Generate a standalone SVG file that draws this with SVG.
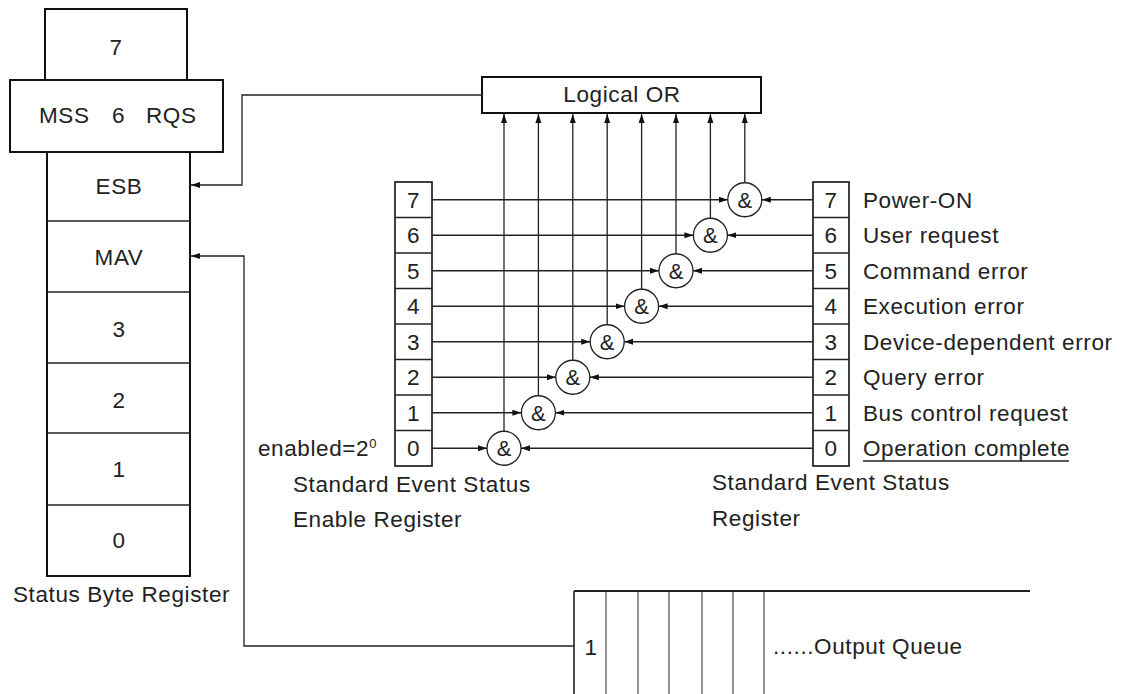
<svg xmlns="http://www.w3.org/2000/svg" width="1124" height="694" viewBox="0 0 1124 694">
<defs>
<style>
text{font-family:"Liberation Sans",Arial,sans-serif;font-size:22.5px;fill:#222;letter-spacing:0.6px}
.box{fill:#fff;stroke:#111;stroke-width:2}
.cell{fill:#fff;stroke:#111;stroke-width:1.6}
.ln{fill:none;stroke:#222;stroke-width:1.3}
.gate{fill:#fff;stroke:#222;stroke-width:1.3}
.c{text-anchor:middle}
.amp{font-size:22px;text-anchor:middle;letter-spacing:0}
</style>
<marker id="ah" markerUnits="userSpaceOnUse" markerWidth="10" markerHeight="8" refX="9" refY="3.5" orient="auto">
<path d="M0,0.5 L9,3.5 L0,6.5 z" fill="#111"/>
</marker>
</defs>
<rect width="1124" height="694" fill="#fff"/>

<g id="status-byte-register">
<rect class="box" x="45" y="9" width="142" height="71"/>
<text class="c" x="116" y="55">7</text>
<rect class="box" x="47" y="152" width="143" height="424"/>
<line class="ln" x1="47" y1="221" x2="190" y2="221" style="stroke-width:1.6"/>
<line class="ln" x1="47" y1="292" x2="190" y2="292" style="stroke-width:1.6"/>
<line class="ln" x1="47" y1="363" x2="190" y2="363" style="stroke-width:1.6"/>
<line class="ln" x1="47" y1="433" x2="190" y2="433" style="stroke-width:1.6"/>
<line class="ln" x1="47" y1="505" x2="190" y2="505" style="stroke-width:1.6"/>
<rect class="box" x="10" y="80" width="213" height="72"/>
<text x="39" y="123">MSS</text>
<text x="112" y="123">6</text>
<text x="146" y="123">RQS</text>
<text class="c" x="119" y="194">ESB</text>
<text class="c" x="119" y="265">MAV</text>
<text class="c" x="119" y="337">3</text>
<text class="c" x="119" y="408">2</text>
<text class="c" x="119" y="477">1</text>
<text class="c" x="119" y="548">0</text>
<text x="13" y="602">Status Byte Register</text>
</g>

<g id="logical-or">
<rect class="box" x="482" y="77" width="279" height="36"/>
<text class="c" x="622" y="102">Logical OR</text>
</g>

<g id="enable-register">
<rect class="cell" x="395" y="182" width="37" height="284"/>
<line class="ln" x1="395" y1="217.5" x2="432" y2="217.5"/>
<line class="ln" x1="395" y1="253" x2="432" y2="253"/>
<line class="ln" x1="395" y1="288.5" x2="432" y2="288.5"/>
<line class="ln" x1="395" y1="324" x2="432" y2="324"/>
<line class="ln" x1="395" y1="359.5" x2="432" y2="359.5"/>
<line class="ln" x1="395" y1="395" x2="432" y2="395"/>
<line class="ln" x1="395" y1="430.5" x2="432" y2="430.5"/>
<text class="c" x="413.5" y="207.5">7</text>
<text class="c" x="413.5" y="243">6</text>
<text class="c" x="413.5" y="278.5">5</text>
<text class="c" x="413.5" y="314">4</text>
<text class="c" x="413.5" y="349.5">3</text>
<text class="c" x="413.5" y="385">2</text>
<text class="c" x="413.5" y="420.5">1</text>
<text class="c" x="413.5" y="456">0</text>
<text x="258" y="456">enabled=2<tspan font-size="13" dy="-8">0</tspan></text>
<text x="293" y="492">Standard Event Status</text>
<text x="293" y="527">Enable Register</text>
</g>

<g id="event-status-register">
<rect class="cell" x="813" y="182" width="36" height="284"/>
<line class="ln" x1="813" y1="217.5" x2="849" y2="217.5"/>
<line class="ln" x1="813" y1="253" x2="849" y2="253"/>
<line class="ln" x1="813" y1="288.5" x2="849" y2="288.5"/>
<line class="ln" x1="813" y1="324" x2="849" y2="324"/>
<line class="ln" x1="813" y1="359.5" x2="849" y2="359.5"/>
<line class="ln" x1="813" y1="395" x2="849" y2="395"/>
<line class="ln" x1="813" y1="430.5" x2="849" y2="430.5"/>
<text class="c" x="831" y="207.5">7</text>
<text class="c" x="831" y="243">6</text>
<text class="c" x="831" y="278.5">5</text>
<text class="c" x="831" y="314">4</text>
<text class="c" x="831" y="349.5">3</text>
<text class="c" x="831" y="385">2</text>
<text class="c" x="831" y="420.5">1</text>
<text class="c" x="831" y="456">0</text>
<text x="863" y="207.5">Power-ON</text>
<text x="863" y="243">User request</text>
<text x="863" y="278.5">Command error</text>
<text x="863" y="314">Execution error</text>
<text x="863" y="349.5">Device-dependent error</text>
<text x="863" y="385">Query error</text>
<text x="863" y="420.5">Bus control request</text>
<text x="863" y="456">Operation complete</text>
<line class="ln" x1="863" y1="461" x2="1069" y2="461"/>
<text x="712" y="490">Standard Event Status</text>
<text x="712" y="526">Register</text>
</g>

<g id="gates">
<g id="gate0"><circle class="gate" cx="504" cy="448.25" r="17"/><text class="amp" x="504" y="456">&amp;</text></g>
<g id="gate1"><circle class="gate" cx="538.4" cy="412.75" r="17"/><text class="amp" x="538.4" y="420.5">&amp;</text></g>
<g id="gate2"><circle class="gate" cx="572.8" cy="377.25" r="17"/><text class="amp" x="572.8" y="385">&amp;</text></g>
<g id="gate3"><circle class="gate" cx="607.2" cy="341.75" r="17"/><text class="amp" x="607.2" y="349.5">&amp;</text></g>
<g id="gate4"><circle class="gate" cx="641.6" cy="306.25" r="17"/><text class="amp" x="641.6" y="314">&amp;</text></g>
<g id="gate5"><circle class="gate" cx="676" cy="270.75" r="17"/><text class="amp" x="676" y="278.5">&amp;</text></g>
<g id="gate6"><circle class="gate" cx="710.4" cy="235.25" r="17"/><text class="amp" x="710.4" y="243">&amp;</text></g>
<g id="gate7"><circle class="gate" cx="744.8" cy="199.75" r="17"/><text class="amp" x="744.8" y="207.5">&amp;</text></g>
</g>

<g id="output-queue">
<line class="ln" x1="574" y1="591" x2="1030" y2="591" style="stroke-width:2"/>
<line class="ln" x1="574" y1="591" x2="574" y2="694" style="stroke-width:1.6"/>
<line class="ln" x1="606" y1="591" x2="606" y2="694" style="stroke-width:1"/>
<line class="ln" x1="638" y1="591" x2="638" y2="694" style="stroke-width:1"/>
<line class="ln" x1="669" y1="591" x2="669" y2="694" style="stroke-width:1"/>
<line class="ln" x1="702" y1="591" x2="702" y2="694" style="stroke-width:1"/>
<line class="ln" x1="733" y1="591" x2="733" y2="694" style="stroke-width:1"/>
<line class="ln" x1="764" y1="591" x2="764" y2="694" style="stroke-width:1"/>
<text class="c" x="591" y="655">1</text>
<text x="773" y="654">......Output Queue</text>
</g>

<g id="connectors">
<polyline class="ln" points="482,95 242,95 242,185 191,185" marker-end="url(#ah)"/>
<polyline class="ln" points="574,646 244,646 244,256 191,256" marker-end="url(#ah)"/>

<line class="ln" x1="432" y1="448.25" x2="487" y2="448.25" marker-end="url(#ah)"/>
<line class="ln" x1="432" y1="412.75" x2="521.4" y2="412.75" marker-end="url(#ah)"/>
<line class="ln" x1="432" y1="377.25" x2="555.8" y2="377.25" marker-end="url(#ah)"/>
<line class="ln" x1="432" y1="341.75" x2="590.2" y2="341.75" marker-end="url(#ah)"/>
<line class="ln" x1="432" y1="306.25" x2="624.6" y2="306.25" marker-end="url(#ah)"/>
<line class="ln" x1="432" y1="270.75" x2="659" y2="270.75" marker-end="url(#ah)"/>
<line class="ln" x1="432" y1="235.25" x2="693.4" y2="235.25" marker-end="url(#ah)"/>
<line class="ln" x1="432" y1="199.75" x2="727.8" y2="199.75" marker-end="url(#ah)"/>

<line class="ln" x1="813" y1="448.25" x2="521" y2="448.25" marker-end="url(#ah)"/>
<line class="ln" x1="813" y1="412.75" x2="555.4" y2="412.75" marker-end="url(#ah)"/>
<line class="ln" x1="813" y1="377.25" x2="589.8" y2="377.25" marker-end="url(#ah)"/>
<line class="ln" x1="813" y1="341.75" x2="624.2" y2="341.75" marker-end="url(#ah)"/>
<line class="ln" x1="813" y1="306.25" x2="658.6" y2="306.25" marker-end="url(#ah)"/>
<line class="ln" x1="813" y1="270.75" x2="693" y2="270.75" marker-end="url(#ah)"/>
<line class="ln" x1="813" y1="235.25" x2="727.4" y2="235.25" marker-end="url(#ah)"/>
<line class="ln" x1="813" y1="199.75" x2="761.8" y2="199.75" marker-end="url(#ah)"/>

<line class="ln" x1="504" y1="431.25" x2="504" y2="114" marker-end="url(#ah)"/>
<line class="ln" x1="538.4" y1="395.75" x2="538.4" y2="114" marker-end="url(#ah)"/>
<line class="ln" x1="572.8" y1="360.25" x2="572.8" y2="114" marker-end="url(#ah)"/>
<line class="ln" x1="607.2" y1="324.75" x2="607.2" y2="114" marker-end="url(#ah)"/>
<line class="ln" x1="641.6" y1="289.25" x2="641.6" y2="114" marker-end="url(#ah)"/>
<line class="ln" x1="676" y1="253.75" x2="676" y2="114" marker-end="url(#ah)"/>
<line class="ln" x1="710.4" y1="218.25" x2="710.4" y2="114" marker-end="url(#ah)"/>
<line class="ln" x1="744.8" y1="182.75" x2="744.8" y2="114" marker-end="url(#ah)"/>
</g>
</svg>
